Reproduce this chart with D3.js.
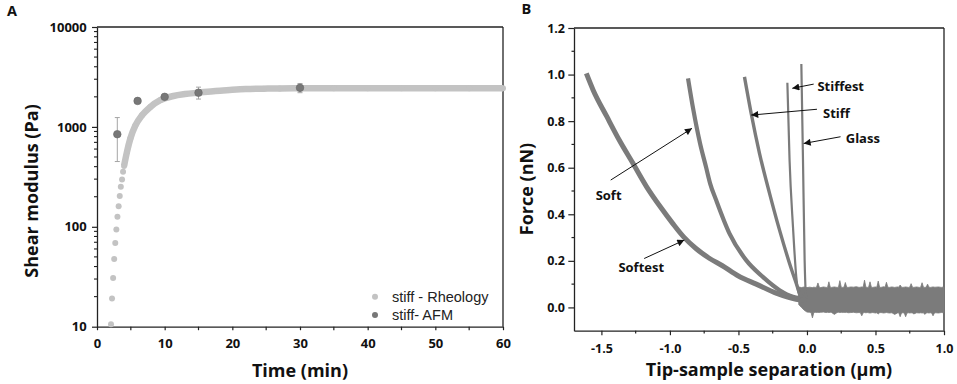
<!DOCTYPE html>
<html><head><meta charset="utf-8">
<script src="https://cdn.jsdelivr.net/npm/d3@7"></script>
<style>
html,body{margin:0;padding:0;background:#fff;}
svg{display:block;}
</style></head>
<body><svg id="c" width="957" height="384"></svg>
<script>
// ---------- Panel A data ----------
const rheoTime  = [2.07,2.22,2.38,2.54,2.70,2.86,3.02,3.20,3.36,3.52,3.70,3.85,4.0,4.43,4.93,5.66,6.65,7.88,9.35,11.3,13.0,15.0,17.5,19.6,22,24.6,27,30,35,40,45,50,55,60];
const rheoValue = [10.6,19.2,30.7,47.5,69,94,126,161,203,251,298,355,407,562,765,1028,1306,1585,1850,2040,2130,2200,2290,2340,2390,2415,2430,2440,2440,2440,2440,2440,2440,2440];
const afmTime  = [3,6,10,15,30];
const afmValue = [845,1820,2000,2200,2460];
const afmSD    = [395,80,120,300,260];
const aXTicks = [0,10,20,30,40,50,60];
const aXMinor = [5,15,25,35,45,55];
const aYTicks = [10,100,1000,10000];
const aYTickLabels = ["10","100","1000","10000"];
const legendLabels = ["stiff - Rheology","stiff- AFM"];

// ---------- Panel B data ----------
const curveNames = ["Softest","Soft","Stiff","Stiffest","Glass"];
const softestX = [-1.61,-1.56,-1.46,-1.37,-1.27,-1.17,-1.07,-0.98,-0.90,-0.81,-0.71,-0.62,-0.50,-0.37,-0.22,-0.08,0.0];
const softestY = [1.005,0.933,0.819,0.719,0.619,0.518,0.432,0.361,0.303,0.253,0.210,0.180,0.135,0.100,0.060,0.035,0.03];
const softX = [-0.868,-0.829,-0.780,-0.737,-0.707,-0.663,-0.566,-0.444,-0.322,-0.20,-0.102,-0.05];
const softY = [0.984,0.848,0.704,0.604,0.533,0.461,0.318,0.203,0.131,0.074,0.046,0.04];
const stiffX = [-0.456,-0.407,-0.346,-0.273,-0.20,-0.127,-0.078,-0.053,-0.03];
const stiffY = [0.99,0.833,0.661,0.49,0.332,0.189,0.103,0.06,0.045];
const stiffestX = [-0.143,-0.127,-0.102,-0.078,-0.066,-0.055];
const stiffestY = [0.965,0.633,0.346,0.131,0.074,0.05];
const glassX = [-0.041,-0.029,-0.017,-0.010,-0.005];
const glassY = [1.045,0.633,0.203,0.074,0.04];
const noiseX = [-0.06,-0.04,-0.02,0,0.02,0.03,0.04,0.05,0.06,0.07,0.08,0.09,0.10,0.12,0.14,0.15,0.16,0.17,0.18,0.20,0.22,0.23,0.24,0.25,0.26,0.27,0.28,0.29,0.30,0.32,0.34,0.36,0.38,0.39,0.40,0.41,0.42,0.43,0.44,0.45,0.46,0.47,0.48,0.50,0.51,0.52,0.53,0.54,0.56,0.57,0.58,0.59,0.60,0.62,0.64,0.66,0.67,0.68,0.69,0.70,0.71,0.72,0.73,0.74,0.75,0.76,0.77,0.78,0.80,0.82,0.83,0.84,0.85,0.86,0.87,0.88,0.89,0.90,0.91,0.92,0.93,0.94,0.96,0.98,1.00];
const noiseTop = [0.088,0.085,0.088,0.085,0.087,0.086,0.085,0.087,0.086,0.087,0.105,0.087,0.085,0.088,0.086,0.086,0.11,0.087,0.086,0.088,0.086,0.087,0.115,0.087,0.086,0.087,0.107,0.087,0.086,0.088,0.087,0.089,0.086,0.087,0.088,0.087,0.117,0.087,0.086,0.087,0.11,0.087,0.086,0.088,0.087,0.113,0.087,0.086,0.089,0.087,0.108,0.087,0.086,0.088,0.086,0.088,0.087,0.096,0.087,0.086,0.087,0.088,0.087,0.086,0.087,0.102,0.087,0.086,0.088,0.086,0.087,0.106,0.087,0.086,0.087,0.1,0.087,0.086,0.087,0.088,0.087,0.087,0.088,0.086,0.088];
const noiseBottom = [0.012,0.0,-0.012,-0.02,-0.021,-0.022,-0.045,-0.022,-0.021,-0.022,-0.021,-0.022,-0.021,-0.02,-0.022,-0.021,-0.022,-0.021,-0.022,-0.03,-0.022,-0.021,-0.022,-0.021,-0.022,-0.021,-0.022,-0.021,-0.023,-0.022,-0.021,-0.023,-0.022,-0.023,-0.036,-0.023,-0.022,-0.023,-0.022,-0.023,-0.024,-0.023,-0.022,-0.024,-0.023,-0.028,-0.023,-0.022,-0.024,-0.023,-0.022,-0.023,-0.024,-0.023,-0.03,-0.024,-0.023,-0.04,-0.024,-0.023,-0.024,-0.04,-0.024,-0.023,-0.024,-0.023,-0.024,-0.028,-0.023,-0.024,-0.023,-0.024,-0.023,-0.03,-0.024,-0.023,-0.024,-0.023,-0.024,-0.036,-0.024,-0.023,-0.024,-0.022,-0.023];
const bXTicks = [-1.5,-1.0,-0.5,0.0,0.5,1.0];
const bXTickLabels = ["-1.5","-1.0","-0.5","0.0","0.5","1.0"];
const bXMinor = [-1.25,-0.75,-0.25,0.25,0.75];
const bYTicks = [0,0.2,0.4,0.6,0.8,1.0,1.2];
const bYTickLabels = ["0.0","0.2","0.4","0.6","0.8","1.0","1.2"];
const bYMinor = [0.1,0.3,0.5,0.7,0.9,1.1];
// annotations: label, label x,y (data) ; arrow from (x,y) to (x,y) in data units
const annLabel = ["Soft","Softest","Stiffest","Stiff","Glass"];
const annTextX = [-1.542,-1.376,0.076,0.117,0.283];
const annTextY = [0.461,0.153,0.931,0.813,0.706];
const annFromX = [-1.432,-1.188,0.049,0.073,0.245];
const annFromY = [0.547,0.210,0.959,0.851,0.733];
const annToX   = [-0.839,-0.895,-0.107,-0.407,-0.024];
const annToY   = [0.769,0.289,0.941,0.826,0.704];

// ---------- drawing ----------
const svg = d3.select("#c");
const BOLD = "'Open Sans', sans-serif";
const AXC = "#222";
const rheoColor = "#c3c3c3", afmColor = "#777", curveColor = "#7b7b7b";

// Panel A scales
const xA = d3.scaleLinear().domain([0,60]).range([97,503]);
const yA = d3.scaleLog().domain([10,10000]).range([326.7,27]);

const gA = svg.append("g");
gA.append("line").attr("x1",xA(0)).attr("x2",xA(60)).attr("y1",yA(10000)).attr("y2",yA(10000)).attr("stroke",AXC).attr("stroke-width",1.3);
gA.append("line").attr("x1",xA(60)).attr("x2",xA(60)).attr("y1",yA(10000)).attr("y2",yA(10)).attr("stroke",AXC).attr("stroke-width",1.3);

const axAx = gA.append("g").attr("transform",`translate(0,${yA(10)})`)
  .call(d3.axisBottom(xA).tickValues(aXTicks).tickFormat(d3.format("d")).tickSize(3.5).tickSizeOuter(0).tickPadding(8.5));
axAx.append("g").selectAll("line").data(aXMinor).join("line")
  .attr("x1",d=>xA(d)).attr("x2",d=>xA(d)).attr("y1",0).attr("y2",3.5).attr("stroke",AXC).attr("stroke-width",1.2);
const minorLog = [];
[10,100,1000].forEach(b=>{for(let k=2;k<=9;k++) minorLog.push(b*k);});
const axAy = gA.append("g").attr("transform",`translate(${xA(0)},0)`)
  .call(d3.axisLeft(yA).tickValues(aYTicks).tickFormat((d,i)=>aYTickLabels[i]).tickSize(5).tickSizeOuter(0).tickPadding(5.3));
axAy.append("g").selectAll("line").data(minorLog).join("line")
  .attr("x1",-3).attr("x2",0).attr("y1",d=>yA(d)).attr("y2",d=>yA(d)).attr("stroke",AXC).attr("stroke-width",1.1);
[axAx,axAy].forEach(a=>{
  a.selectAll(".domain").attr("stroke",AXC).attr("stroke-width",1.3);
  a.selectAll(".tick line").attr("stroke",AXC).attr("stroke-width",1.2);
  a.selectAll("text").attr("font-family",BOLD).attr("font-weight",700).attr("font-size",13).attr("fill","#111");
});

// rheology band + dots
const rheo = rheoTime.map((t,i)=>({t,v:rheoValue[i]}));
gA.append("path").datum(rheo.filter(d=>d.v>=400))
  .attr("d",d3.line().x(d=>xA(d.t)).y(d=>yA(d.v)).curve(d3.curveMonotoneX))
  .attr("fill","none").attr("stroke",rheoColor).attr("stroke-width",6.5).attr("stroke-linecap","butt");
gA.append("g").selectAll("circle").data(rheo).join("circle")
  .attr("cx",d=>xA(d.t)).attr("cy",d=>yA(d.v)).attr("r",3).attr("fill",rheoColor);

// AFM error bars & points
const afm = afmTime.map((t,i)=>({t,v:afmValue[i],sd:afmSD[i]}));
const eb = gA.append("g").attr("stroke","#a5a5a5").attr("stroke-width",1);
afm.forEach(d=>{
  const x=xA(d.t), y1=yA(d.v+d.sd), y2=yA(d.v-d.sd);
  eb.append("line").attr("x1",x).attr("x2",x).attr("y1",y1).attr("y2",y2);
  eb.append("line").attr("x1",x-2.5).attr("x2",x+2.5).attr("y1",y1).attr("y2",y1);
  eb.append("line").attr("x1",x-2.5).attr("x2",x+2.5).attr("y1",y2).attr("y2",y2);
});
gA.append("g").selectAll("circle").data(afm).join("circle")
  .attr("cx",d=>xA(d.t)).attr("cy",d=>yA(d.v)).attr("r",3.8).attr("fill",afmColor).attr("stroke","#666").attr("stroke-width",0.6);

// legend
const lg = gA.append("g").attr("font-family","'Liberation Sans', Arial, sans-serif").attr("font-size",14.5).attr("fill","#222");
[rheoColor,afmColor].forEach((c,i)=>{
  lg.append("circle").attr("cx",375).attr("cy",296.7+i*18.3).attr("r",3).attr("fill",c);
  lg.append("text").attr("x",392).attr("y",301.8+i*18.3).text(legendLabels[i]);
});

// axis titles A
svg.append("text").attr("transform","translate(38,191) rotate(-90)").attr("text-anchor","middle")
  .attr("font-family",BOLD).attr("font-weight",700).attr("font-size",18).attr("fill","#111").text("Shear modulus (Pa)");
svg.append("text").attr("x",300).attr("y",376.5).attr("text-anchor","middle")
  .attr("font-family",BOLD).attr("font-weight",700).attr("font-size",18).attr("fill","#111").text("Time (min)");
svg.append("text").attr("x",7).attr("y",15.5).attr("font-family",BOLD).attr("font-weight",700).attr("font-size",14.5).attr("fill","#111").text("A");

// Panel B
const xB = d3.scaleLinear().domain([-1.7,1.0]).range([574,944]);
const yB = d3.scaleLinear().domain([-0.1,1.2]).range([330.7,28]);
const gB = svg.append("g");
gB.append("line").attr("x1",xB(-1.7)).attr("x2",xB(1.0)).attr("y1",yB(1.2)).attr("y2",yB(1.2)).attr("stroke",AXC).attr("stroke-width",1.3);
gB.append("line").attr("x1",xB(1.0)).attr("x2",xB(1.0)).attr("y1",yB(1.2)).attr("y2",yB(-0.1)).attr("stroke",AXC).attr("stroke-width",1.3);

// noise band
const noise = noiseX.map((x,i)=>({x,t:noiseTop[i],b:noiseBottom[i]}));
gB.append("path").datum(noise)
  .attr("d",d3.area().x(d=>xB(d.x)).y0(d=>yB(d.b)).y1(d=>yB(d.t)))
  .attr("fill",curveColor).attr("stroke",curveColor).attr("stroke-width",0.8);

const curves = [
  {x:softestX,y:softestY,w:5},
  {x:softX,y:softY,w:4.2},
  {x:stiffX,y:stiffY,w:3.4},
  {x:stiffestX,y:stiffestY,w:2.2},
  {x:glassX,y:glassY,w:2.2}
];
const lineB = d3.line().x(d=>xB(d[0])).y(d=>yB(d[1])).curve(d3.curveMonotoneX);
curves.forEach((c,k)=>{
  gB.append("path").datum(c.x.map((v,i)=>[v,c.y[i]])).attr("class","curve-"+curveNames[k])
    .attr("d",lineB).attr("fill","none").attr("stroke",curveColor).attr("stroke-width",c.w).attr("stroke-linejoin","round");
});

const axBx = gB.append("g").attr("transform",`translate(0,${yB(-0.1)})`)
  .call(d3.axisBottom(xB).tickValues(bXTicks).tickFormat((d,i)=>bXTickLabels[i]).tickSize(4.5).tickSizeOuter(0).tickPadding(8.5));
axBx.append("g").selectAll("line").data(bXMinor).join("line")
  .attr("x1",d=>xB(d)).attr("x2",d=>xB(d)).attr("y1",0).attr("y2",2.7).attr("stroke",AXC).attr("stroke-width",1.2);
const axBy = gB.append("g").attr("transform",`translate(${xB(-1.7)},0)`)
  .call(d3.axisLeft(yB).tickValues(bYTicks).tickFormat((d,i)=>bYTickLabels[i]).tickSize(5.7).tickSizeOuter(0).tickPadding(3.3));
axBy.append("g").selectAll("line").data(bYMinor).join("line")
  .attr("x1",-2.5).attr("x2",0).attr("y1",d=>yB(d)).attr("y2",d=>yB(d)).attr("stroke",AXC).attr("stroke-width",1.2);
[axBx,axBy].forEach(a=>{
  a.selectAll(".domain").attr("stroke",AXC).attr("stroke-width",1.3);
  a.selectAll(".tick line").attr("stroke",AXC).attr("stroke-width",1.2);
  a.selectAll("text").attr("font-family",BOLD).attr("font-weight",700).attr("font-size",12.5).attr("fill","#111");
});

// arrows
const defs = svg.append("defs");
defs.append("marker").attr("id","ah").attr("viewBox","0 0 10 10").attr("refX",10).attr("refY",5)
  .attr("markerWidth",8).attr("markerHeight",7).attr("markerUnits","userSpaceOnUse").attr("orient","auto")
  .append("path").attr("d","M0,0 L10,5 L0,10 Z").attr("fill","#111");
annLabel.forEach((lab,i)=>{
  gB.append("line").attr("x1",xB(annFromX[i])).attr("y1",yB(annFromY[i]))
    .attr("x2",xB(annToX[i])).attr("y2",yB(annToY[i]))
    .attr("stroke","#111").attr("stroke-width",1).attr("marker-end","url(#ah)");
  gB.append("text").attr("x",xB(annTextX[i])).attr("y",yB(annTextY[i]))
    .attr("font-family",BOLD).attr("font-weight",700).attr("font-size",13).attr("fill","#111").text(lab);
});

svg.append("text").attr("transform","translate(533,189) rotate(-90)").attr("text-anchor","middle")
  .attr("font-family",BOLD).attr("font-weight",700).attr("font-size",18).attr("fill","#111").text("Force (nN)");
svg.append("text").attr("x",769).attr("y",375.5).attr("text-anchor","middle")
  .attr("font-family",BOLD).attr("font-weight",700).attr("font-size",18).attr("fill","#111").text("Tip-sample separation (µm)");
svg.append("text").attr("x",521.5).attr("y",14).attr("font-family",BOLD).attr("font-weight",700).attr("font-size",14.5).attr("fill","#111").text("B");
</script></body></html>
